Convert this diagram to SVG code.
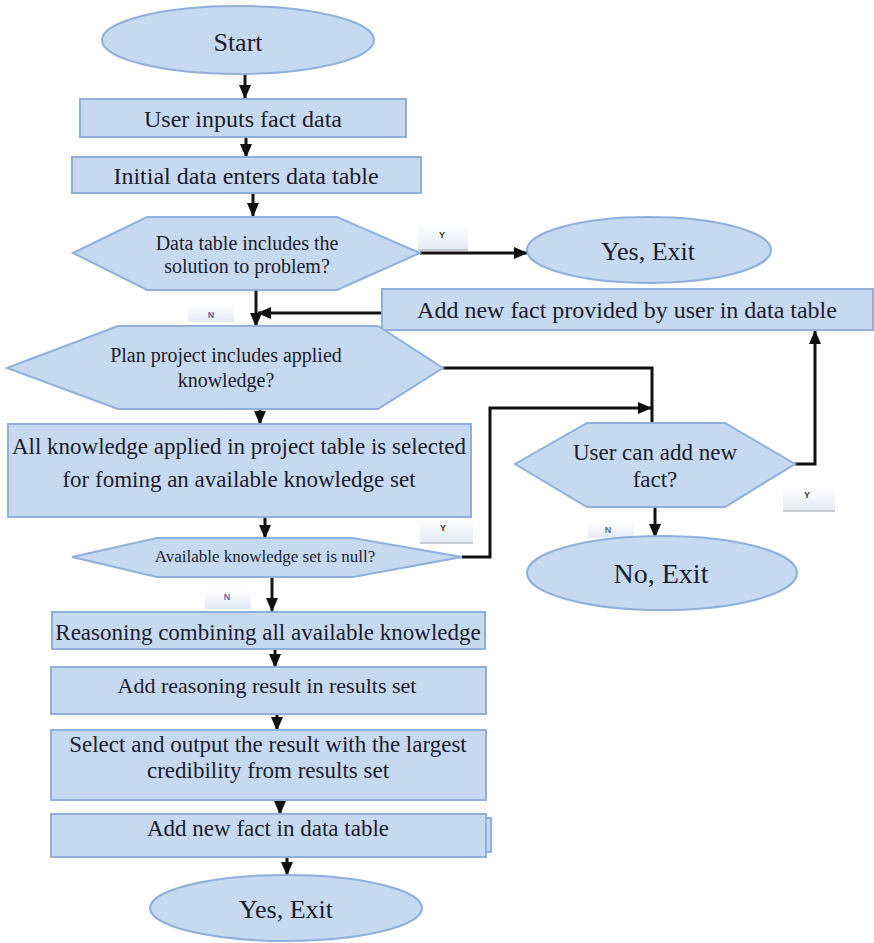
<svg xmlns="http://www.w3.org/2000/svg" width="874" height="943" viewBox="0 0 874 943">
<defs>
<marker id="ah" markerUnits="userSpaceOnUse" markerWidth="14" markerHeight="12" refX="13" refY="6" orient="auto">
<path d="M0,0 L14,6 L0,12 z" fill="#111"/>
</marker>
<linearGradient id="lg" x1="0" y1="0" x2="0" y2="1">
<stop offset="0" stop-color="#ffffff"/>
<stop offset="1" stop-color="#e4eaf4"/>
</linearGradient>
</defs>
<style>
.n{fill:#c6d9f1;stroke:#8fb0da;stroke-width:2}
.t{font-family:"Liberation Serif","Times New Roman",serif;fill:#1c1c2c;text-anchor:middle}
.c{fill:none;stroke:#111;stroke-width:3}
.lb{fill:url(#lg)}
.ul{stroke:#b8bcc4;stroke-width:1.5}
.yl{font-family:"Liberation Sans",Arial,sans-serif;font-size:9px;font-weight:bold;fill:#333;text-anchor:middle}
.nl{font-family:"Liberation Sans",Arial,sans-serif;font-size:9px;font-weight:bold;fill:#5a6a9a;text-anchor:middle}
</style>
<rect width="874" height="943" fill="#fff"/>

<g id="connectors">
<line class="c" x1="245" y1="74" x2="245" y2="98" marker-end="url(#ah)"/>
<line class="c" x1="246" y1="137" x2="246" y2="157" marker-end="url(#ah)"/>
<line class="c" x1="253" y1="193" x2="253" y2="216" marker-end="url(#ah)"/>
<line class="c" x1="420" y1="253" x2="527" y2="253" marker-end="url(#ah)"/>
<line class="c" x1="256" y1="290" x2="256" y2="326" marker-end="url(#ah)"/>
<line class="c" x1="382" y1="313" x2="258" y2="313" marker-end="url(#ah)"/>
<line class="c" x1="260" y1="409" x2="260" y2="424" marker-end="url(#ah)"/>
<polyline class="c" points="443,368 652,368 652,423"/>
<line class="c" x1="265" y1="517" x2="265" y2="538" marker-end="url(#ah)"/>
<polyline class="c" points="462,557 490,557 490,408 651,408" marker-end="url(#ah)"/>
<polyline class="c" points="795,464 815,464 815,331" marker-end="url(#ah)"/>
<line class="c" x1="655" y1="507" x2="655" y2="537" marker-end="url(#ah)"/>
<line class="c" x1="272" y1="577" x2="272" y2="611" marker-end="url(#ah)"/>
<line class="c" x1="275" y1="649" x2="275" y2="667" marker-end="url(#ah)"/>
<line class="c" x1="277" y1="714" x2="277" y2="730" marker-end="url(#ah)"/>
<line class="c" x1="280" y1="800" x2="280" y2="814" marker-end="url(#ah)"/>
<line class="c" x1="287" y1="857" x2="287" y2="875" marker-end="url(#ah)"/>
</g>

<g id="labels">
<rect class="lb" x="418" y="224" width="50" height="26"/>
<line class="ul" x1="418" y1="250" x2="468" y2="250"/>
<text class="yl" x="442" y="238">Y</text>
<rect class="lb" x="188" y="304" width="46" height="18"/>
<text class="nl" x="211" y="318">N</text>
<rect class="lb" x="420" y="518" width="53" height="25"/>
<line class="ul" x1="420" y1="543" x2="473" y2="543"/>
<text class="yl" x="443" y="531">Y</text>
<rect class="lb" x="783" y="486" width="52" height="25"/>
<line class="ul" x1="783" y1="511" x2="835" y2="511"/>
<text class="yl" x="807" y="498">Y</text>
<rect class="lb" x="588" y="522" width="46" height="16"/>
<text class="nl" x="608" y="533">N</text>
<rect class="lb" x="205" y="589" width="46" height="20"/>
<text class="nl" x="227" y="600">N</text>
</g>

<g id="start">
<ellipse class="n" cx="238" cy="40" rx="136" ry="34"/>
<text class="t" x="238" y="51" font-size="26">Start</text>
</g>

<g id="user-inputs">
<rect class="n" x="80" y="99" width="326" height="38"/>
<text class="t" x="243" y="127" font-size="24">User inputs fact data</text>
</g>

<g id="initial-data">
<rect class="n" x="72" y="157" width="349" height="36"/>
<text class="t" x="246" y="184" font-size="24">Initial data enters data table</text>
</g>

<g id="dec-solution">
<polygon class="n" points="73,253 147,217 337,217 420,253 337,290 147,290"/>
<text class="t" x="247" y="250" font-size="20">Data table includes  the</text>
<text class="t" x="247" y="273" font-size="20">solution to problem?</text>
</g>

<g id="yes-exit-1">
<ellipse class="n" cx="649" cy="250" rx="122" ry="33"/>
<text class="t" x="648" y="260" font-size="26">Yes, Exit</text>
</g>

<g id="add-new-fact-user">
<rect class="n" x="382" y="289" width="491" height="41"/>
<text class="t" x="627" y="318" font-size="24">Add new fact provided by user in data table</text>
</g>

<g id="dec-plan">
<polygon class="n" points="7,368 118,326 378,326 443,368 378,409 118,409"/>
<text class="t" x="226" y="362" font-size="20">Plan project includes  applied</text>
<text class="t" x="226" y="387" font-size="20">knowledge?</text>
</g>

<g id="select-knowledge">
<rect class="n" x="8" y="424" width="463" height="93"/>
<text class="t" x="239" y="454" font-size="23">All knowledge  applied in project table is selected</text>
<text class="t" x="239" y="487" font-size="23">for foming an available knowledge set</text>
</g>

<g id="dec-user-add">
<polygon class="n" points="515,464 587,423 725,423 795,464 725,507 587,507"/>
<text class="t" x="655" y="460" font-size="23">User can add new</text>
<text class="t" x="655" y="487" font-size="23">fact?</text>
</g>

<g id="no-exit">
<ellipse class="n" cx="662" cy="573" rx="135" ry="37"/>
<text class="t" x="661" y="583" font-size="28">No, Exit</text>
</g>

<g id="dec-null">
<polygon class="n" points="72,557 157,538 353,538 462,557 353,577 157,577"/>
<text class="t" x="265" y="562" font-size="17">Available knowledge set is null?</text>
</g>

<g id="reasoning">
<rect class="n" x="52" y="612" width="433" height="37"/>
<text class="t" x="268" y="640" font-size="23">Reasoning combining all available knowledge</text>
</g>

<g id="add-result">
<rect class="n" x="51" y="667" width="435" height="47"/>
<text class="t" x="267" y="693" font-size="22">Add reasoning result in results  set</text>
</g>

<g id="select-output">
<rect class="n" x="51" y="730" width="435" height="70"/>
<text class="t" x="268" y="752" font-size="23">Select and output the result with the largest</text>
<text class="t" x="268" y="778" font-size="23">credibility  from results  set</text>
</g>

<g id="add-fact-table">
<rect class="n" x="486" y="818" width="5" height="34"/>
<rect class="n" x="51" y="814" width="435" height="43"/>
<text class="t" x="268" y="836" font-size="23">Add new fact in data table</text>
</g>

<g id="yes-exit-2">
<ellipse class="n" cx="286" cy="908" rx="136" ry="33"/>
<text class="t" x="286" y="918" font-size="26">Yes, Exit</text>
</g>
</svg>
